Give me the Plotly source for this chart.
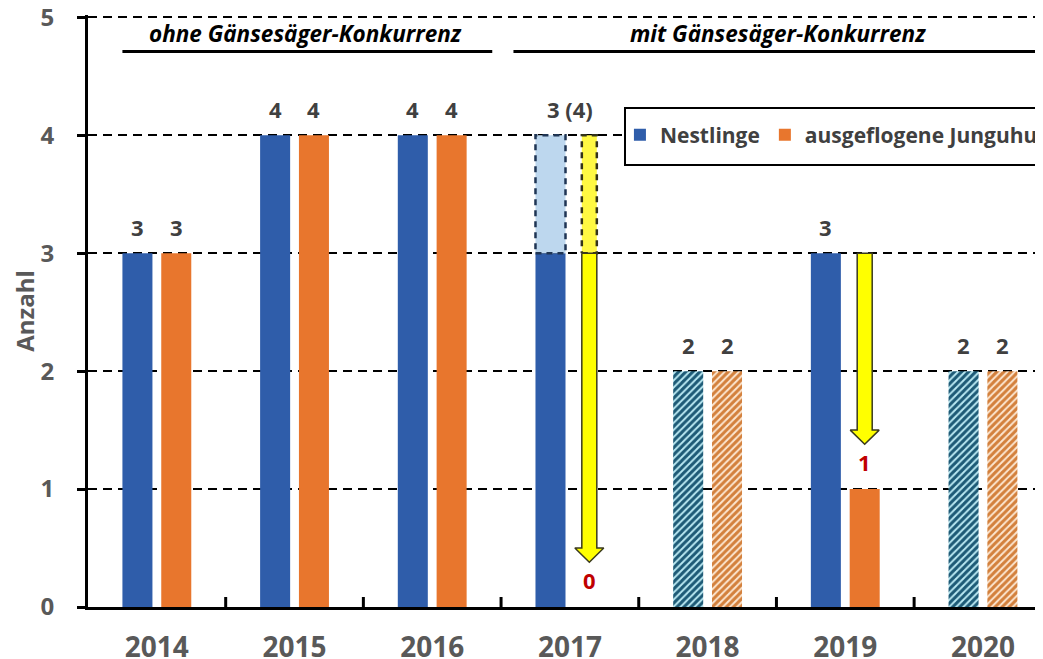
import plotly.graph_objects as go

years = ["2014", "2015", "2016", "2017", "2018", "2019", "2020"]
nestlinge = [3, 4, 4, 3, 2, 3, 2]
nestlinge_possible = [None, None, None, 4, None, None, None]
junguhus = [3, 4, 4, 0, 2, 1, 2]
hatched = [False, False, False, False, True, False, True]
nest_labels = ["3", "4", "4", "3 (4)", "2", "3", "2"]
jung_labels = ["3", "4", "4", "", "2", "", "2"]
arrow_idx = [3, 5]
arrow_labels = ["0", "1"]

BLUE = "#2F5DAA"
ORANGE = "#E8762D"
W = 0.218
OFF_B = -0.25
OFF_O = 0.032
FONT = "Open Sans"

x = list(range(len(years)))
fig = go.Figure()

# solid bars
fig.add_trace(go.Bar(x=[i for i in x if not hatched[i]], y=[nestlinge[i] for i in x if not hatched[i]],
                     width=W, offset=OFF_B, marker=dict(color=BLUE, line=dict(width=0)),
                     name="Nestlinge", legendrank=1))
fig.add_trace(go.Bar(x=[i for i in x if not hatched[i]], y=[junguhus[i] for i in x if not hatched[i]],
                     width=W, offset=OFF_O, marker=dict(color=ORANGE, line=dict(width=0)),
                     name="ausgeflogene Junguhus", legendrank=2))
# hatched bars
fig.add_trace(go.Bar(x=[i for i in x if hatched[i]], y=[nestlinge[i] for i in x if hatched[i]],
                     width=W, offset=OFF_B, showlegend=False,
                     marker=dict(color="#B9E8F2", line=dict(width=0),
                                 pattern=dict(shape="/", fgcolor="#1D5A76", bgcolor="#B9E8F2",
                                              size=5, solidity=0.6, fillmode="replace"))))
fig.add_trace(go.Bar(x=[i for i in x if hatched[i]], y=[junguhus[i] for i in x if hatched[i]],
                     width=W, offset=OFF_O, showlegend=False,
                     marker=dict(color="#FCE6D0", line=dict(width=0),
                                 pattern=dict(shape="/", fgcolor="#D3803C", bgcolor="#FCE6D0",
                                              size=5, solidity=0.6, fillmode="replace"))))

# 2017 possible extension (dashed light blue box) + dashed yellow arrow part
SW = 0.109
HW = 0.21
HH = 0.12
TIP = 0.38
for i, p in enumerate(nestlinge_possible):
    if p is None:
        continue
    x0 = i + OFF_B
    x1 = x0 + W
    fig.add_trace(go.Scatter(x=[x0, x1, x1, x0, x0], y=[nestlinge[i], nestlinge[i], p, p, nestlinge[i]],
                             mode="lines", fill="toself", fillcolor="#BDD7EE",
                             line=dict(color="#1F3554", width=2.5, dash="6px,5px"),
                             showlegend=False, hoverinfo="skip"))
    cx = i + OFF_O + W / 2
    fig.add_trace(go.Scatter(x=[cx - SW / 2, cx + SW / 2, cx + SW / 2, cx - SW / 2, cx - SW / 2],
                             y=[nestlinge[i], nestlinge[i], p, p, nestlinge[i]],
                             mode="lines", fill="toself", fillcolor="#FFF943",
                             line=dict(color="#33331A", width=2.5, dash="6px,5px"),
                             showlegend=False, hoverinfo="skip"))

# arrows
for i in arrow_idx:
    cx = i + OFF_O + W / 2
    y0 = nestlinge[i]
    tip = junguhus[i] + TIP
    ht = tip + HH
    xs = [cx - SW / 2, cx + SW / 2, cx + SW / 2, cx + HW / 2, cx, cx - HW / 2, cx - SW / 2, cx - SW / 2]
    ys = [y0, y0, ht, ht, tip, ht, ht, y0]
    fig.add_trace(go.Scatter(x=xs, y=ys, mode="lines", fill="toself", fillcolor="#FFFF00",
                             line=dict(color="#3A3A1E", width=1.5),
                             showlegend=False, hoverinfo="skip"))

LBL = dict(family=FONT, size=22, color="#404040", weight="bold")
annotations = []
for i in x:
    top = nestlinge_possible[i] if nestlinge_possible[i] is not None else nestlinge[i]
    ax = i if nestlinge_possible[i] is not None else i + OFF_B + W / 2
    annotations.append(dict(x=ax, y=top, text=nest_labels[i], showarrow=False, yshift=26,
                            xanchor="center", yanchor="middle", font=LBL))
    if jung_labels[i]:
        annotations.append(dict(x=i + OFF_O + W / 2, y=junguhus[i], text=jung_labels[i], showarrow=False,
                                yshift=26, yanchor="middle", font=LBL))
for i, lab in zip(arrow_idx, arrow_labels):
    annotations.append(dict(x=i + OFF_O + W / 2, y=junguhus[i], text=lab, showarrow=False,
                            yshift=27, yanchor="middle",
                            font=dict(family=FONT, size=22, color="#C00000", weight="bold")))

# group headers
HDR = dict(family=FONT, size=22.5, color="#000000", weight="bold")
annotations.append(dict(x=1.08, y=4.86, text="<i>ohne Gänsesäger-Konkurrenz</i>", showarrow=False, font=HDR))
annotations.append(dict(x=4.51, y=4.86, text="<i>mit Gänsesäger-Konkurrenz</i>", showarrow=False, font=HDR))

shapes = [
    dict(type="line", xref="x", yref="y", x0=-0.25, x1=2.436, y0=4.71, y1=4.71,
         line=dict(color="black", width=3)),
    dict(type="line", xref="x", yref="y", x0=2.59, x1=6.5, y0=4.71, y1=4.71,
         line=dict(color="black", width=3)),
    # legend frame
    dict(type="rect", xref="paper", yref="paper", x0=0.5623, x1=1.05, y0=0.7466, y1=0.843,
         line=dict(color="black", width=2), fillcolor="white", layer="above"),
]
for k in range(len(years) - 1):
    shapes.append(dict(type="line", xref="x", yref="y", x0=k + 0.5, x1=k + 0.5, y0=-0.085, y1=0.085,
                       line=dict(color="black", width=3)))

fig.update_layout(
    width=1035, height=651,
    margin=dict(l=80, r=0, t=7, b=52, autoexpand=False),
    paper_bgcolor="white", plot_bgcolor="white",
    barmode="overlay",
    annotations=annotations, shapes=shapes,
    legend=dict(orientation="h", x=0.557, y=0.797, xanchor="left", yanchor="middle",
                borderwidth=0, bgcolor="rgba(0,0,0,0)",
                font=dict(family=FONT, size=21, color="#404040", weight="bold"),
                itemwidth=30, traceorder="normal"),
    xaxis=dict(range=[-0.5, 6.436], tickmode="array", tickvals=x, ticktext=years,
               showgrid=False, zeroline=False, showline=True, linecolor="black", linewidth=3,
               ticks="", ticklabelstandoff=13, automargin=False,
               tickfont=dict(family=FONT, size=28, color="#595959", weight="bold")),
    yaxis=dict(range=[0, 5.02], tickvals=[0, 1, 2, 3, 4, 5], showgrid=True, gridcolor="black",
               gridwidth=1.5, griddash="9px,6px", zeroline=False, showline=True, linecolor="black",
               linewidth=3, ticks="outside", ticklen=8, tickwidth=3, tickcolor="black",
               ticklabelstandoff=18, automargin=False, ticklabeloverflow="allow",
               tickfont=dict(family=FONT, size=24, color="#595959", weight="bold"),
               title=dict(text="Anzahl", standoff=18,
                          font=dict(family=FONT, size=24, color="#595959", weight="bold"))),
)

fig.write_html("out.html")
